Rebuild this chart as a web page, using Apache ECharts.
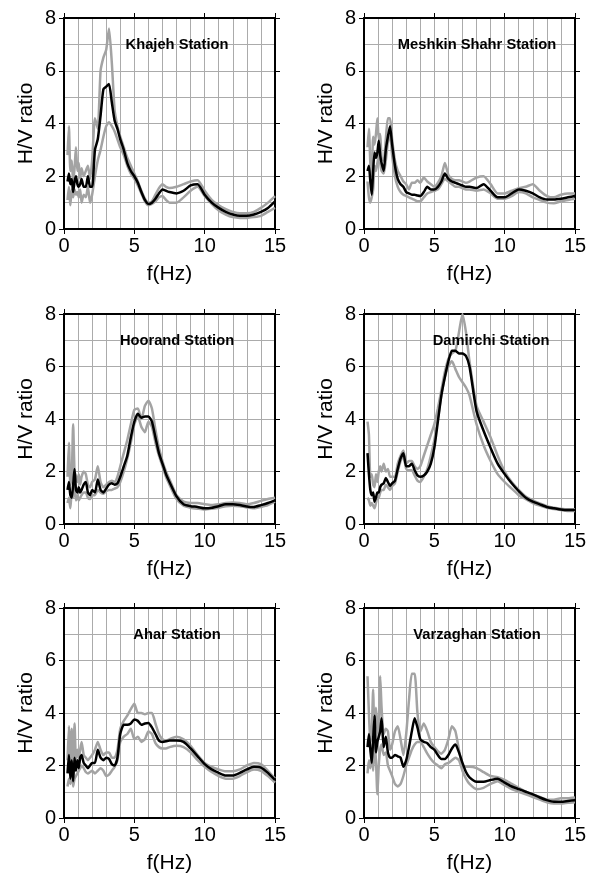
<!DOCTYPE html>
<html>
<head>
<meta charset="utf-8">
<script src="https://cdn.jsdelivr.net/npm/echarts@6/dist/echarts.min.js"></script>
<style>
html,body{margin:0;padding:0;background:#fff;}
#chart{width:599px;height:876px;}
</style>
</head>
<body>
<div id="chart"></div>
<script>
// Frequencies (Hz) shared by all curves
const freq = [0.25,0.35,0.45,0.55,0.65,0.75,0.85,0.95,1.05,1.15,1.25,1.4,1.55,1.7,1.85,2.0,
  2.2,2.4,2.6,2.8,3.0,3.2,3.4,3.6,3.8,4.0,4.25,4.5,4.75,5.0,
  5.25,5.5,5.75,6.0,6.25,6.5,6.75,7.0,7.25,7.5,
  8.0,8.5,9.0,9.5,10.0,10.5,11.0,11.5,12.0,12.5,13.0,13.5,14.0,14.5,15.0];

const stationNames = ["Khajeh Station","Meshkin Shahr Station","Hoorand Station","Damirchi Station","Ahar Station","Varzaghan Station"];
const xTicks = [0,5,10,15];
const yTicks = [0,2,4,6,8];

// Khajeh
const khajehMean = [1.8,2.1,1.7,1.9,1.4,1.8,2.0,1.7,1.6,1.7,1.9,1.6,1.6,2.0,1.6,1.6,
  3.0,3.4,4.3,5.3,5.4,5.5,4.8,4.1,3.8,3.4,3.0,2.5,2.2,2.0,
  1.75,1.4,1.1,0.95,1.0,1.15,1.35,1.5,1.45,1.4,
  1.35,1.45,1.65,1.7,1.3,1.0,0.8,0.65,0.55,0.5,0.5,0.55,0.65,0.8,1.05];
const khajehUpper = [2.8,3.9,2.2,2.6,1.8,2.3,3.1,2.2,2.5,1.9,2.3,2.0,2.2,2.4,1.9,2.6,
  4.2,3.8,6.0,6.5,6.8,7.6,6.3,4.5,3.9,3.5,3.1,2.7,2.4,2.1,
  1.8,1.45,1.15,1.0,1.05,1.3,1.55,1.7,1.6,1.55,
  1.6,1.7,1.8,1.85,1.45,1.1,0.9,0.75,0.65,0.6,0.6,0.65,0.8,1.0,1.25];
const khajehLower = [1.1,1.6,0.9,1.5,1.2,1.5,1.3,1.4,1.2,1.5,1.0,1.3,1.2,1.6,1.0,1.3,
  2.0,2.6,3.0,3.5,3.9,4.05,3.9,3.7,3.4,3.1,2.8,2.4,2.1,1.9,
  1.65,1.35,1.05,0.9,0.95,1.05,1.2,1.25,1.1,1.0,
  1.0,1.2,1.45,1.6,1.25,0.95,0.7,0.55,0.45,0.42,0.42,0.45,0.5,0.65,0.8];

// Meshkin Shahr
const meshkinMean = [2.2,2.4,1.8,1.3,2.2,2.9,2.7,2.9,3.35,2.8,2.5,2.2,3.0,3.5,3.9,3.2,
  2.4,1.9,1.7,1.6,1.4,1.35,1.3,1.3,1.27,1.25,1.4,1.6,1.5,1.5,
  1.6,1.8,2.1,1.9,1.8,1.75,1.7,1.65,1.6,1.6,
  1.55,1.7,1.45,1.2,1.2,1.35,1.5,1.45,1.35,1.2,1.12,1.12,1.15,1.2,1.25];
const meshkinUpper = [3.1,3.8,2.5,2.0,3.5,3.2,3.6,4.2,3.4,3.6,2.7,2.6,3.4,4.2,4.2,3.4,
  2.6,2.2,2.0,1.8,1.7,1.5,1.75,1.75,1.85,1.75,1.95,1.8,1.7,1.6,
  1.75,2.0,2.5,2.05,1.9,1.85,1.85,1.8,1.75,1.8,
  1.95,2.0,1.7,1.35,1.35,1.45,1.55,1.6,1.7,1.45,1.25,1.2,1.3,1.35,1.35];
const meshkinLower = [1.8,1.2,1.0,1.2,1.5,2.4,2.2,2.5,2.8,2.5,2.2,2.1,2.6,3.3,3.6,2.8,
  2.0,1.6,1.4,1.3,1.25,1.2,1.15,1.1,1.05,1.05,1.2,1.35,1.4,1.45,
  1.5,1.7,1.9,1.8,1.7,1.6,1.6,1.55,1.5,1.5,
  1.45,1.5,1.35,1.15,1.15,1.25,1.4,1.35,1.2,1.1,1.0,0.98,1.05,1.1,1.15];

// Hoorand
const hoorandMean = [1.3,1.6,1.1,1.0,1.5,2.1,1.3,1.2,1.4,1.2,1.3,1.5,1.6,1.2,1.1,1.3,
  1.2,1.7,1.3,1.2,1.35,1.5,1.55,1.5,1.55,1.8,2.2,2.6,3.3,3.9,
  4.2,4.05,4.1,4.1,3.9,3.3,2.7,2.3,1.9,1.6,
  1.05,0.75,0.68,0.65,0.6,0.62,0.68,0.75,0.75,0.72,0.67,0.65,0.72,0.8,0.9];
const hoorandUpper = [1.8,3.1,1.5,1.8,3.8,2.0,1.8,1.6,1.9,1.5,1.8,2.0,1.9,1.5,1.4,1.6,
  1.7,2.2,1.6,1.4,1.5,1.6,1.65,1.6,1.8,2.2,2.7,3.2,3.8,4.35,
  4.4,4.0,4.5,4.7,4.4,3.6,2.9,2.4,2.0,1.7,
  1.1,0.85,0.8,0.8,0.75,0.72,0.75,0.8,0.82,0.8,0.75,0.8,0.88,0.95,1.0];
const hoorandLower = [0.8,1.0,0.6,1.2,1.0,1.4,0.9,1.1,0.9,1.0,1.1,1.2,1.2,1.0,0.95,1.1,
  1.1,1.3,1.2,1.15,1.25,1.3,1.3,1.35,1.4,1.6,2.0,2.5,3.1,3.8,
  4.1,3.7,3.5,3.9,3.7,3.1,2.6,2.2,1.8,1.5,
  0.95,0.7,0.62,0.58,0.55,0.58,0.62,0.68,0.7,0.68,0.63,0.6,0.65,0.72,0.85];

// Damirchi
const damirchiMean = [2.7,1.9,1.3,1.1,1.2,0.85,1.0,1.2,1.2,1.4,1.5,1.55,1.75,1.6,1.45,1.55,
  1.65,2.1,2.5,2.7,2.2,2.2,2.3,2.05,1.85,1.8,1.85,2.0,2.3,2.9,
  3.9,4.9,5.6,6.2,6.6,6.6,6.5,6.5,6.4,6.0,
  4.3,3.55,2.9,2.3,1.9,1.55,1.25,1.0,0.85,0.75,0.65,0.6,0.55,0.53,0.53];
const damirchiUpper = [3.9,3.4,1.8,1.9,1.5,1.4,1.9,1.6,2.0,2.2,2.0,2.3,2.0,2.1,1.8,1.8,
  1.8,2.3,2.6,2.8,2.3,2.4,2.4,2.2,2.1,2.2,2.6,3.0,3.4,3.8,
  4.4,5.1,5.8,6.3,6.5,6.6,7.3,8.0,7.3,6.2,
  4.5,3.9,3.3,2.6,2.0,1.6,1.3,1.05,0.9,0.78,0.68,0.62,0.58,0.56,0.56];
const damirchiLower = [1.0,0.9,0.7,0.8,0.7,0.6,0.8,1.0,1.0,1.2,1.3,1.3,1.5,1.4,1.3,1.45,
  1.55,2.0,2.4,2.6,2.1,2.05,2.05,1.85,1.65,1.6,1.8,2.1,2.6,3.2,
  4.0,4.9,5.6,6.0,6.2,5.9,5.6,5.4,5.2,4.9,
  3.8,3.0,2.4,1.9,1.6,1.35,1.1,0.95,0.8,0.7,0.62,0.57,0.53,0.5,0.5];

// Ahar
const aharMean = [1.7,2.4,1.5,2.2,1.4,2.3,1.8,2.2,1.9,2.3,2.4,2.1,2.0,1.9,2.0,2.1,
  2.1,2.6,2.3,2.2,2.3,2.25,2.05,2.0,2.3,3.2,3.55,3.55,3.6,3.75,
  3.7,3.55,3.6,3.62,3.45,3.2,2.95,2.9,2.92,2.95,
  2.95,2.9,2.65,2.35,2.05,1.85,1.72,1.62,1.62,1.72,1.85,1.95,1.92,1.72,1.45];
const aharUpper = [2.2,3.5,1.8,3.4,1.9,3.6,2.2,2.6,2.3,2.6,2.9,2.4,2.3,2.2,2.3,2.4,
  2.6,2.9,2.6,2.4,2.5,2.5,2.3,2.3,2.6,3.4,3.7,3.9,4.15,4.35,
  4.0,4.0,3.95,4.0,4.0,3.6,3.2,3.0,2.95,3.0,
  3.1,3.0,2.75,2.4,2.1,1.95,1.85,1.78,1.78,1.85,2.0,2.1,2.05,1.8,1.5];
const aharLower = [1.2,1.5,1.3,1.7,1.2,1.5,1.6,1.7,1.8,1.9,2.0,1.9,1.75,1.7,1.75,1.8,
  1.7,1.8,1.9,1.8,1.6,1.65,1.8,1.95,2.2,2.9,3.1,3.2,3.4,3.0,
  3.1,2.9,3.0,3.3,3.2,2.85,2.7,2.65,2.65,2.7,
  2.75,2.7,2.5,2.2,1.95,1.75,1.6,1.5,1.5,1.6,1.75,1.85,1.8,1.6,1.35];

// Varzaghan
const varzaghanMean = [2.7,3.2,2.6,2.1,3.0,3.9,2.5,2.9,3.1,3.3,3.8,2.7,3.1,2.5,2.3,2.3,
  2.4,2.35,2.3,1.95,2.2,2.7,3.3,3.8,3.45,3.0,2.9,2.85,2.7,2.6,
  2.4,2.25,2.25,2.4,2.65,2.8,2.5,2.1,1.75,1.55,
  1.38,1.38,1.45,1.5,1.35,1.2,1.1,1.0,0.9,0.78,0.68,0.62,0.62,0.65,0.68];
const varzaghanUpper = [5.4,4.0,2.9,3.3,4.9,2.6,4.2,3.6,3.0,5.4,4.2,3.2,3.4,3.3,2.6,2.8,
  3.3,3.5,3.0,2.4,3.2,4.5,5.5,5.5,4.0,3.3,3.6,3.3,2.9,2.7,
  2.55,2.45,2.6,3.0,3.5,3.3,2.6,2.0,1.95,1.95,
  1.9,1.75,1.6,1.55,1.45,1.3,1.15,1.0,0.9,0.8,0.7,0.7,0.75,0.75,0.78];
const varzaghanLower = [1.7,2.2,1.9,2.4,1.8,2.8,2.2,0.9,2.0,2.6,2.8,2.4,2.5,2.0,1.8,1.6,
  1.3,1.2,1.3,1.6,2.0,2.3,2.6,2.8,2.9,2.9,2.7,2.45,2.25,2.1,
  2.0,1.9,2.05,2.1,2.2,2.3,2.2,1.8,1.5,1.3,
  1.1,1.15,1.3,1.4,1.25,1.1,1.0,0.9,0.8,0.7,0.6,0.55,0.55,0.58,0.6];

const meanCurves = [khajehMean, meshkinMean, hoorandMean, damirchiMean, aharMean, varzaghanMean];
const upperCurves = [khajehUpper, meshkinUpper, hoorandUpper, damirchiUpper, aharUpper, varzaghanUpper];
const lowerCurves = [khajehLower, meshkinLower, hoorandLower, damirchiLower, aharLower, varzaghanLower];

// ---- layout ----
const colLeft = [64, 364];
const rowTop = [18, 314, 608];
const rowH = [211, 210, 210];
const W = 211;
const titleDx = [113, 113, 113, 127, 113, 113];
const FONT = "'Liberation Sans', Arial, Helvetica, sans-serif";
const GRIDC = '#ababab';

const grids = [], xAxes = [], yAxes = [], series = [], graphics = [];
function pairs(vals){ return freq.map((f,i)=>[f, vals[i]]); }

for (let p = 0; p < 6; p++) {
  const c = p % 2, r = Math.floor(p / 2);
  const left = colLeft[c], top = rowTop[r], h = rowH[r];
  grids.push({left: left, top: top, width: W, height: h, containLabel: false});
  const axLine = {show: true, onZero: false, lineStyle: {color: '#000', width: 2}};
  const tick = {show: true, inside: false, length: 5, lineStyle: {color: '#000', width: 1}};
  xAxes.push({
    type: 'value', gridIndex: p, min: xTicks[0], max: xTicks[xTicks.length-1], interval: 5,
    position: 'bottom', axisLine: axLine, axisTick: tick,
    axisLabel: {show: true, fontSize: 20, color: '#000', margin: 7, fontFamily: FONT},
    splitLine: {show: true, lineStyle: {color: GRIDC, width: 1}},
    minorTick: {show: false, splitNumber: 5},
    minorSplitLine: {show: true, lineStyle: {color: GRIDC, width: 1}},
    name: 'f(Hz)', nameLocation: 'middle', nameGap: 35,
    nameTextStyle: {fontSize: 21, color: '#000', fontFamily: FONT}
  });
  xAxes.push({
    type: 'value', gridIndex: p, min: 0, max: 15, interval: 5, position: 'top',
    axisLine: axLine, axisTick: tick, axisLabel: {show: false}, splitLine: {show: false}
  });
  yAxes.push({
    type: 'value', gridIndex: p, min: yTicks[0], max: yTicks[yTicks.length-1], interval: 2,
    position: 'left', axisLine: axLine, axisTick: tick,
    axisLabel: {show: true, fontSize: 20, color: '#000', margin: 8, fontFamily: FONT},
    splitLine: {show: true, lineStyle: {color: GRIDC, width: 1}},
    minorTick: {show: false, splitNumber: 2},
    minorSplitLine: {show: true, lineStyle: {color: GRIDC, width: 1}},
    name: 'H/V ratio', nameLocation: 'middle', nameRotate: 90, nameGap: 27,
    nameTextStyle: {fontSize: 21, color: '#000', fontFamily: FONT}
  });
  yAxes.push({
    type: 'value', gridIndex: p, min: 0, max: 8, interval: 2, position: 'right',
    axisLine: axLine, axisTick: tick, axisLabel: {show: false}, splitLine: {show: false}
  });
  const xi = p * 2, yi = p * 2;
  [upperCurves[p], lowerCurves[p]].forEach(vals => {
    series.push({
      type: 'line', xAxisIndex: xi, yAxisIndex: yi, data: pairs(vals),
      showSymbol: false, smooth: 0.2, silent: true, z: 2,
      lineStyle: {color: '#a3a3a3', width: 2.5}
    });
  });
  series.push({
    type: 'line', xAxisIndex: xi, yAxisIndex: yi, data: pairs(meanCurves[p]),
    showSymbol: false, smooth: 0.2, silent: true, z: 3,
    lineStyle: {color: '#000', width: 2.5}
  });
  graphics.push({
    type: 'text', x: left + titleDx[p], y: top + 27, z: 10,
    style: {text: stationNames[p], align: 'center', verticalAlign: 'middle',
      font: "bold 14.7px " + FONT, fill: '#000'}
  });
}

const chart = echarts.init(document.getElementById('chart'), null, {renderer: 'canvas'});
chart.setOption({
  animation: false,
  backgroundColor: '#fff',
  grid: grids, xAxis: xAxes, yAxis: yAxes, series: series, graphic: graphics
});
</script>
</body>
</html>
